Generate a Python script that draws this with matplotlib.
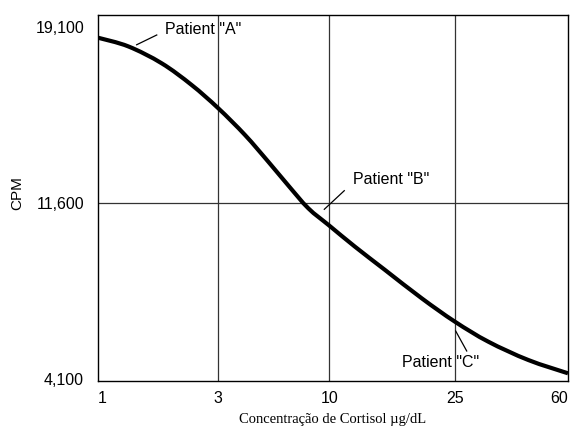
import matplotlib.pyplot as plt
from matplotlib.path import Path
from matplotlib.patches import PathPatch

# Curva padrão (posição no eixo x, CPM)
curva_x = [0.0, 0.258, 0.542, 0.797, 1.024, 1.251, 1.449, 1.620, 1.790,
           1.969, 2.187, 2.443, 2.755, 3.038, 3.322, 3.662, 4.0]
curva_cpm = [18631, 18260, 17540, 16616, 15622, 14485, 13347, 12330, 11360,
             10620, 9724, 8731, 7525, 6527, 5675, 4895, 4328]

# Eixo x: concentração de cortisol (µg/dL), posições dos rótulos
x_pos = [0.0, 1.024, 1.969, 3.038, 4.0]
x_rotulos = ['1', '3', '10', '25', '60']
y_ticks = [4100, 11600, 19100]
y_rotulos = ['4,100', '11,600', '19,100']

# Pacientes: texto, ponto da linha, fim da linha, posição do texto
pacientes = ['Patient "A"', 'Patient "B"', 'Patient "C"']
linha_ini = [(0.329, 18330), (1.926, 11318), (3.044, 6131)]
linha_fim = [(0.500, 18747), (2.096, 12111), (3.138, 5279)]
texto_pos = [(0.57, 19002), (2.173, 12609), (2.913, 4797)]
texto_ha = ['left', 'left', 'center']

SANS = 'Liberation Sans'
SERIF = 'Liberation Serif'


def caminho_suave(xs, ys):
    # passa uma curva Bezier (Catmull-Rom) pelos pontos lidos
    pts = list(zip(xs, ys))
    verts = [pts[0]]
    codes = [Path.MOVETO]
    for i in range(len(pts) - 1):
        p0 = pts[max(i - 1, 0)]
        p1 = pts[i]
        p2 = pts[i + 1]
        p3 = pts[min(i + 2, len(pts) - 1)]
        c1 = (p1[0] + (p2[0] - p0[0]) / 6, p1[1] + (p2[1] - p0[1]) / 6)
        c2 = (p2[0] - (p3[0] - p1[0]) / 6, p2[1] - (p3[1] - p1[1]) / 6)
        verts += [c1, c2, p2]
        codes += [Path.CURVE4] * 3
    return Path(verts, codes)


fig = plt.figure(figsize=(5.73, 4.34), dpi=100)
ax = fig.add_axes([98 / 573, 1 - 381 / 434, 470 / 573, 366.5 / 434])

ax.add_patch(PathPatch(caminho_suave(curva_x, curva_cpm), facecolor='none',
                       edgecolor='black', lw=3, capstyle='butt', zorder=3))

for xv in x_pos[1:-1]:
    ax.axvline(xv, color='#333333', lw=0.9, zorder=0)
ax.axhline(y_ticks[1], color='#333333', lw=0.9, zorder=0)

for nome, p0, p1, pt, ha in zip(pacientes, linha_ini, linha_fim, texto_pos, texto_ha):
    ax.plot([p0[0], p1[0]], [p0[1], p1[1]], color='black', lw=0.9)
    ax.text(pt[0], pt[1], nome, ha=ha, va='center', fontsize=11.5, family=SANS)

ax.set_xlim(0, 4)
ax.set_ylim(4000, 19620)
ax.set_xticks(x_pos)
ax.set_xticklabels(x_rotulos, fontsize=11.5, family=SANS)
ax.set_yticks(y_ticks)
ax.set_yticklabels(y_rotulos, fontsize=11.5, family=SANS)
ax.tick_params(length=0)
ax.tick_params(axis='x', pad=7)
ax.tick_params(axis='y', pad=10)
lbls = ax.get_xticklabels()
lbls[0].set_ha('left')
lbls[-1].set_ha('right')

for s in ax.spines.values():
    s.set_color('black')
    s.set_linewidth(1)

ax.set_xlabel('Concentração de Cortisol µg/dL', fontsize=10.5, family=SERIF, va='center')
ax.xaxis.set_label_coords((333 - 98) / 470, (381 - 420) / 366.5)
ax.set_ylabel('CPM', fontsize=11, family=SANS, va='center')
ax.yaxis.set_label_coords((17 - 98) / 470, (381 - 193) / 366.5)

fig.savefig('out.png', dpi=100)
